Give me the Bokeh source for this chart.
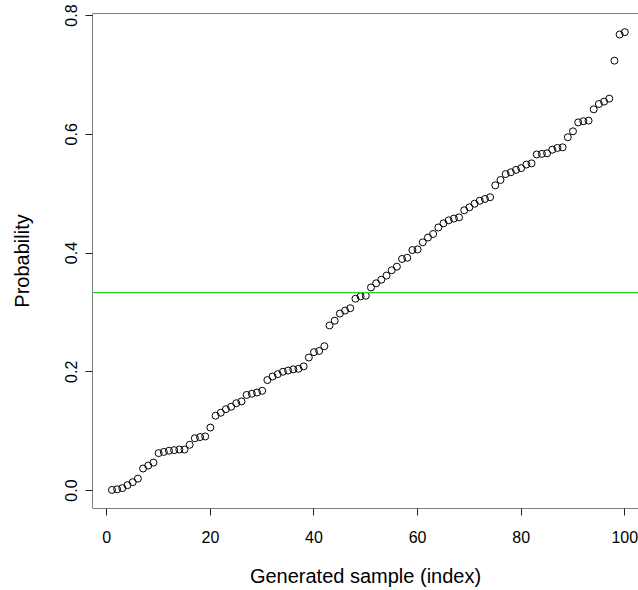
from bokeh.plotting import figure
from bokeh.models import Range1d, FixedTicker, NumeralTickFormatter, Span, ColumnDataSource
from bokeh.embed import file_html
from bokeh.resources import INLINE

# ---- data ----
sample_index = list(range(1, 101))
probability = [
    0.001, 0.002, 0.004, 0.009, 0.014, 0.020, 0.037, 0.042, 0.047, 0.063,
    0.065, 0.067, 0.068, 0.069, 0.069, 0.077, 0.088, 0.090, 0.091, 0.106,
    0.126, 0.131, 0.137, 0.141, 0.147, 0.150, 0.161, 0.163, 0.165, 0.168,
    0.186, 0.192, 0.196, 0.200, 0.202, 0.204, 0.205, 0.209, 0.224, 0.233,
    0.235, 0.243, 0.278, 0.286, 0.298, 0.303, 0.307, 0.323, 0.327, 0.328,
    0.342, 0.349, 0.355, 0.362, 0.371, 0.377, 0.390, 0.392, 0.405, 0.406,
    0.418, 0.426, 0.432, 0.443, 0.450, 0.455, 0.458, 0.460, 0.472, 0.477,
    0.483, 0.488, 0.491, 0.494, 0.514, 0.523, 0.533, 0.536, 0.540, 0.543,
    0.549, 0.551, 0.566, 0.567, 0.568, 0.574, 0.577, 0.578, 0.595, 0.605,
    0.620, 0.622, 0.623, 0.642, 0.651, 0.655, 0.660, 0.724, 0.768, 0.772,
]
reference_level = 1.0 / 3.0
x_ticks = [0, 20, 40, 60, 80, 100]
y_ticks = [0.0, 0.2, 0.4, 0.6, 0.8]
x_title = "Generated sample (index)"
y_title = "Probability"

FONT = "Liberation Sans"

x_start = -2.76
x_end = x_start + 546 / 5.18
y_start = -0.0303
y_end = 0.8034

p = figure(width=638, height=590,
           x_range=Range1d(x_start, x_end), y_range=Range1d(y_start, y_end),
           min_border_left=92, min_border_right=0, min_border_top=13, min_border_bottom=82,
           output_backend="svg", toolbar_location=None)

p.outline_line_color = None
p.xgrid.visible = False
p.ygrid.visible = False
p.background_fill_color = "white"
p.border_fill_color = "white"

# box (left, top, bottom); right side falls outside the picture
for loc, dim in [(y_end, "width"), (y_start, "width"), (x_start, "height")]:
    p.add_layout(Span(location=loc, dimension=dim, line_color="black", line_width=1))

# reference line
p.add_layout(Span(location=reference_level, dimension="width",
                  line_color="#30D030", line_width=1.2))

src = ColumnDataSource(dict(x=sample_index, y=probability))
p.scatter("x", "y", source=src, marker="circle", size=7,
          fill_color=None, line_color="black", line_width=1)

for ax in (p.xaxis[0], p.yaxis[0]):
    ax.axis_line_color = None
    ax.major_tick_line_color = "#222222"
    ax.major_tick_out = 7
    ax.major_tick_in = 0
    ax.minor_tick_out = 0
    ax.minor_tick_in = 0
    ax.major_label_text_font = FONT
    ax.major_label_text_font_size = "16px"
    ax.major_label_text_color = "black"
    ax.axis_label_text_font = FONT
    ax.axis_label_text_font_size = "20px"
    ax.axis_label_text_font_style = "normal"
    ax.axis_label_text_color = "black"

p.xaxis.ticker = FixedTicker(ticks=x_ticks)
p.yaxis.ticker = FixedTicker(ticks=y_ticks)
p.yaxis.formatter = NumeralTickFormatter(format="0.0")
p.yaxis.major_label_orientation = "vertical"
p.xaxis.axis_label = x_title
p.yaxis.axis_label = y_title
p.xaxis.major_label_standoff = 15
p.xaxis.axis_label_standoff = 19
p.yaxis.major_label_standoff = 8
p.yaxis.axis_label_standoff = 30

open("out.html", "w").write(file_html(p, INLINE))
